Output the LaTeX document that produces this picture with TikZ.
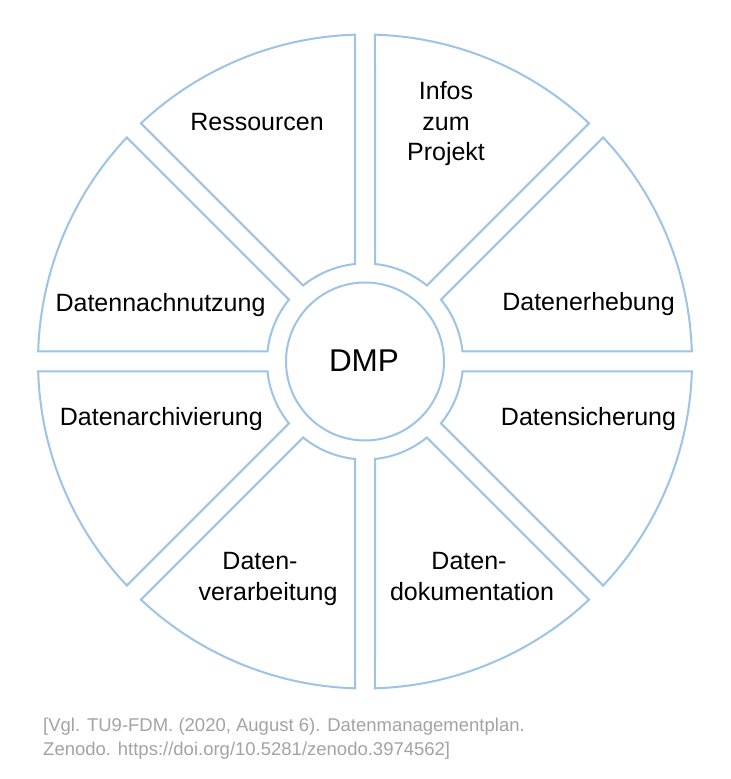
\documentclass[tikz,border=0pt]{standalone}
\usepackage{fontspec}
\setmainfont{Liberation Sans}
\usetikzlibrary{calc}
\definecolor{segblue}{HTML}{9DC3E6}
\definecolor{capgray}{HTML}{A3A3A3}
\begin{document}
\begin{tikzpicture}[x=1bp,y=1bp,
  seg/.style={draw=segblue,line width=2bp,fill=white,line join=miter},
  lbl/.style={anchor=base,inner sep=0pt,font=\fontsize{25bp}{31bp}\selectfont,align=center}]
\useasboundingbox (0,0) rectangle (731,779);
\coordinate (c) at (365,417.5);
\def\Rout{327}
\def\Rin{98}
\def\hg{10}
\pgfmathsetmacro{\dR}{asin(\hg/\Rout)}
\pgfmathsetmacro{\dr}{asin(\hg/\Rin)}
\foreach \k in {0,...,7}{
  \pgfmathsetmacro{\aone}{\k*45}
  \pgfmathsetmacro{\atwo}{\k*45+45}
  \draw[seg] ($(c)+(\aone+\dr:\Rin)$) -- ($(c)+(\aone+\dR:\Rout)$)
    arc[start angle=\aone+\dR,end angle=\atwo-\dR,radius=\Rout]
    -- ($(c)+(\atwo-\dr:\Rin)$)
    arc[start angle=\atwo-\dr,end angle=\aone+\dr,radius=\Rin] -- cycle;
}
\node[draw=segblue,line width=2bp,circle,minimum size=158bp,inner sep=0pt] (dmp) at (c) {};
\node[anchor=center,inner sep=0pt,font=\fontsize{31.5bp}{37bp}\selectfont] (dmptext) at (364,418) {DMP};
\node[lbl] (ress) at (257,648.3) {Ressourcen};
\node[lbl] (infos) at (446,679.7) {Infos};
\node[lbl] (zum) at (446,648) {zum};
\node[lbl] (proj) at (446,618.3) {Projekt};
\node[lbl] (erheb) at (588.5,468.3) {Datenerhebung};
\node[lbl] (nach) at (160.5,467.3) {Datennachnutzung};
\node[lbl] (sich) at (588.5,353.3) {Datensicherung};
\node[lbl] (arch) at (161.3,353.3) {Datenarchivierung};
\node[lbl] (vera1) at (260,209.7) {Daten-};
\node[lbl] (vera2) at (268,178.3) {verarbeitung};
\node[lbl] (doku1) at (469,209.7) {Daten-};
\node[lbl] (doku2) at (472,178.3) {dokumentation};
\node[anchor=base west,inner sep=0pt,text=capgray,font=\fontsize{18.5bp}{24bp}\selectfont] (cap1) at (43,47) {[Vgl. TU9-FDM. (2020, August 6). Datenmanagementplan.};
\node[anchor=base west,inner sep=0pt,text=capgray,font=\fontsize{18.5bp}{24bp}\selectfont] (cap2) at (43,23) {Zenodo. https://doi.org/10.5281/zenodo.3974562]};
\end{tikzpicture}
\end{document}
